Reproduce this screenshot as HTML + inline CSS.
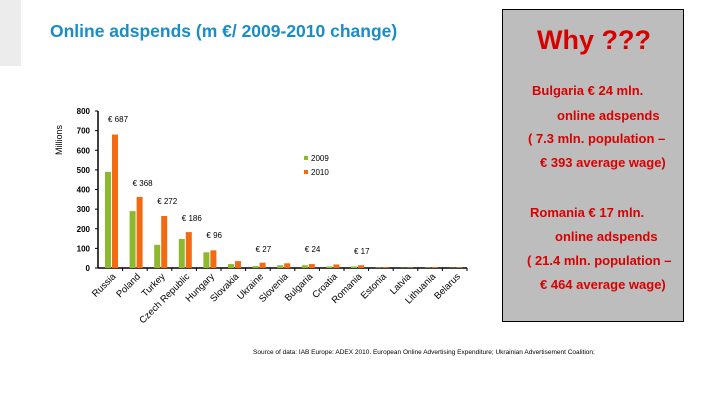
<!DOCTYPE html>
<html><head><meta charset="utf-8"><style>
body{margin:0;width:720px;height:405px;background:#fff;position:relative;overflow:hidden;font-family:"Liberation Sans",sans-serif}
.t{position:absolute;white-space:nowrap}
.box{position:absolute;left:502px;top:9px;width:180px;height:311px;background:#bdbdbd;border:1px solid #000}
.r{color:#d90000;font-weight:bold;font-size:13px;position:absolute;white-space:nowrap}
</style></head><body>
<div style="position:absolute;left:0;top:0;width:21px;height:66px;background:#ececec"></div>
<div class="t" style="left:50px;top:21px;font-size:17.5px;color:#1a8cc8;font-weight:bold">Online adspends (m €/ 2009-2010 change)</div>
<div class="box"></div>
<div class="r" style="left:537px;top:25px;font-size:27px">Why ???</div>
<div class="r" style="left:532px;top:83px">Bulgaria € 24 mln.</div>
<div class="r" style="left:557px;top:108px">online adspends</div>
<div class="r" style="left:528px;top:131px">( 7.3 mln. population –</div>
<div class="r" style="left:540px;top:155px">€ 393 average wage)</div>
<div class="r" style="left:530px;top:205px">Romania € 17 mln.</div>
<div class="r" style="left:555px;top:229px">online adspends</div>
<div class="r" style="left:527px;top:253px">( 21.4 mln. population –</div>
<div class="r" style="left:540px;top:277px">€ 464 average wage)</div>
<div class="t" style="left:253px;top:349px;font-size:6.5px;color:#000">Source of data: IAB Europe: ADEX 2010. European Online Advertising Expenditure; Ukrainian Advertisement Coalition;</div>
<svg id="c" width="720" height="405" style="position:absolute;left:0;top:0"></svg>
<script>
const categories=["Russia","Poland","Turkey","Czech Republic","Hungary","Slovakia","Ukraine","Slovenia","Bulgaria","Croatia","Romania","Estonia","Latvia","Lithuania","Belarus"];
const values2009=[490,290,118,148,80,20,10,14,14,8,8,2,1,2,1];
const values2010=[680,362,265,183,90,35,27,24,20,18,14,4,2,4,3];
const yTicks=[0,100,200,300,400,500,600,700,800];
const annotations=[["€ 687",0],["€ 368",1],["€ 272",2],["€ 186",3],["€ 96",4],["€ 27",6],["€ 24",8],["€ 17",10]];
const annY=[122,186,204,221,238,252,252,254];
const NS="http://www.w3.org/2000/svg",svg=document.getElementById('c');
const x0=98,x1=467,y0=268,yTop=111,band=(x1-x0)/categories.length;
const ys=v=>y0-(v/800)*(y0-yTop);
const xb=i=>x0+i*band;
function mk(t,a,txt){const e=document.createElementNS(NS,t);for(const k in a)e.setAttribute(k,a[k]);if(txt!==undefined)e.textContent=txt;svg.appendChild(e);return e;}
let e=mk('line',{x1:x0,y1:yTop,x2:x0,y2:y0,stroke:'#000','stroke-width':1.5});

e=mk('line',{x1:x0,y1:y0,x2:x1,y2:y0,stroke:'#000','stroke-width':1.5});

yTicks.forEach(v=>{mk('line',{x1:x0-3,y1:ys(v),x2:x0,y2:ys(v),stroke:'#000'});
e=mk('text',{x:x0-8,y:ys(v)+3,'text-anchor':'end','font-size':8,'font-weight':'bold','font-family':'Liberation Sans'},v);
});
e=mk('text',{x:62,y:140,'font-size':9,'text-anchor':'middle',transform:'rotate(-90 62 140)','font-family':'Liberation Sans'},'Millions');

categories.forEach((c,i)=>{const bx=xb(i);
mk('line',{x1:bx+band,y1:y0,x2:bx+band,y2:y0+3,stroke:'#000'});
e=mk('rect',{x:bx+7,y:ys(values2009[i]),width:6,height:y0-ys(values2009[i]),fill:'#8db92e'});

e=mk('rect',{x:bx+14,y:ys(values2010[i]),width:6,height:y0-ys(values2010[i]),fill:'#f26a12'});

const lx=bx+band/2+6,ly=y0+9;
e=mk('text',{x:lx,y:ly,'text-anchor':'end','font-size':9.5,transform:`rotate(-45 ${lx} ${ly})`,'font-family':'Liberation Sans'},c);
});
annotations.forEach((a,k)=>{e=mk('text',{x:xb(a[1])+10,y:annY[k],'font-size':8,'font-family':'Liberation Sans','text-anchor':'start'},a[0]);
});
e=mk('rect',{x:304,y:156,width:4,height:4,fill:'#8db92e'});
e=mk('text',{x:311,y:161,'font-size':8,'font-family':'Liberation Sans'},'2009');
e=mk('rect',{x:304,y:170,width:4,height:4,fill:'#f26a12'});
e=mk('text',{x:311,y:175,'font-size':8,'font-family':'Liberation Sans'},'2010');
</script>
</body></html>
